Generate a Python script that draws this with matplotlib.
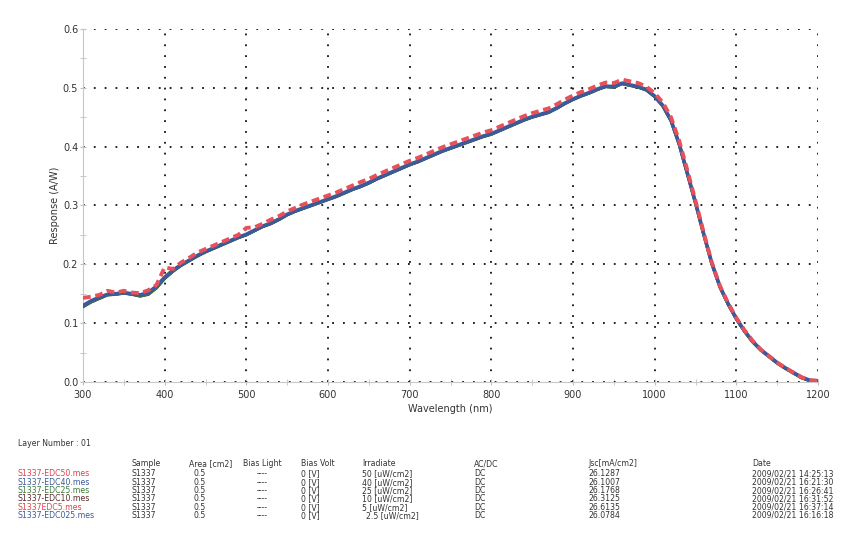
import matplotlib
matplotlib.use('Agg')
import matplotlib.pyplot as plt
from matplotlib.ticker import MultipleLocator

# wavelength grid (nm), 10 nm steps
wavelength = list(range(300, 1201, 10))

# EDC40 / EDC025 (blue)
resp_blue = [0.130, 0.138, 0.144, 0.149, 0.150, 0.152, 0.150, 0.148, 0.152, 0.163,
             0.178, 0.190, 0.199, 0.207, 0.215, 0.222, 0.228, 0.234, 0.240, 0.246,
             0.251, 0.258, 0.265, 0.270, 0.277, 0.285, 0.291, 0.296, 0.301, 0.306,
             0.311, 0.316, 0.322, 0.328, 0.333, 0.339, 0.346, 0.352, 0.358, 0.364,
             0.370, 0.375, 0.381, 0.387, 0.393, 0.398, 0.403, 0.408, 0.413, 0.418,
             0.422, 0.428, 0.434, 0.440, 0.446, 0.451, 0.455, 0.459, 0.466, 0.474,
             0.481, 0.487, 0.492, 0.498, 0.503, 0.502, 0.508, 0.505, 0.502, 0.497,
             0.486, 0.470, 0.445, 0.405, 0.355, 0.305, 0.252, 0.202, 0.162, 0.133,
             0.108, 0.087, 0.069, 0.055, 0.044, 0.033, 0.024, 0.016, 0.008, 0.003,
             0.002]

# EDC10 / EDC25 (black, green)
resp_dark = [0.128, 0.136, 0.142, 0.148, 0.149, 0.151, 0.149, 0.146, 0.149, 0.160,
             0.176, 0.188, 0.198, 0.206, 0.214, 0.221, 0.227, 0.233, 0.239, 0.245,
             0.250, 0.257, 0.264, 0.269, 0.276, 0.284, 0.290, 0.295, 0.300, 0.305,
             0.310, 0.315, 0.321, 0.327, 0.332, 0.338, 0.345, 0.351, 0.357, 0.363,
             0.369, 0.374, 0.380, 0.386, 0.392, 0.397, 0.402, 0.407, 0.412, 0.417,
             0.421, 0.427, 0.433, 0.439, 0.445, 0.450, 0.454, 0.458, 0.465, 0.473,
             0.480, 0.486, 0.491, 0.497, 0.502, 0.501, 0.507, 0.504, 0.501, 0.496,
             0.485, 0.469, 0.444, 0.404, 0.354, 0.304, 0.251, 0.201, 0.161, 0.132,
             0.107, 0.086, 0.068, 0.054, 0.043, 0.032, 0.023, 0.015, 0.007, 0.002,
             0.001]

# EDC50 / EDC5 (red, dashed)
resp_red = [0.143, 0.145, 0.148, 0.155, 0.152, 0.155, 0.152, 0.151, 0.156, 0.165,
            0.195, 0.192, 0.203, 0.211, 0.220, 0.226, 0.232, 0.238, 0.244, 0.250,
            0.262, 0.263, 0.269, 0.276, 0.282, 0.290, 0.296, 0.302, 0.307, 0.312,
            0.317, 0.322, 0.328, 0.334, 0.340, 0.345, 0.352, 0.358, 0.364, 0.370,
            0.376, 0.381, 0.387, 0.393, 0.399, 0.404, 0.409, 0.414, 0.419, 0.424,
            0.428, 0.434, 0.440, 0.446, 0.452, 0.457, 0.461, 0.465, 0.472, 0.480,
            0.487, 0.493, 0.498, 0.504, 0.509, 0.508, 0.514, 0.511, 0.508, 0.502,
            0.491, 0.475, 0.450, 0.410, 0.360, 0.308, 0.254, 0.203, 0.163, 0.134,
            0.109, 0.088, 0.070, 0.055, 0.044, 0.033, 0.024, 0.016, 0.008, 0.003,
            0.002]

# measurement table
files = ['S1337-EDC50.mes', 'S1337-EDC40.mes', 'S1337-EDC25.mes',
         'S1337-EDC10.mes', 'S1337EDC5.mes', 'S1337-EDC025.mes']
file_colors = ['#e0404a', '#3a5a9c', '#3a7a3a', '#5a2a2a', '#e0404a', '#3a5a9c']
irradiate = ['50 [uW/cm2]', '40 [uW/cm2]', '25 [uW/cm2]',
             '10 [uW/cm2]', '5 [uW/cm2]', '2.5 [uW/cm2]']
jsc = ['26.1287', '26.1007', '26.1768', '26.3125', '26.6135', '26.0784']
dates = ['2009/02/21 14:25:13', '2009/02/21 16:21:30', '2009/02/21 16:26:41',
         '2009/02/21 16:31:52', '2009/02/21 16:37:14', '2009/02/21 16:16:18']

W, H = 851, 552
fig = plt.figure(figsize=(W / 100, H / 100), dpi=100)
ax = fig.add_axes([83 / W, 1 - 382 / H, (818 - 83) / W, (382 - 29) / H])

ax.plot(wavelength, resp_dark, color='#2a2a2a', lw=2.2, zorder=3)
ax.plot(wavelength, resp_dark, color='#3a7a3a', lw=2.0, zorder=3)
ax.plot(wavelength, resp_blue, color='#3a5a9c', lw=2.6, zorder=4)
ax.plot(wavelength, resp_red, color='#e8505a', lw=2.8, ls=(0, (2.0, 1.2)), zorder=5)

ax.set_xlim(300, 1200)
ax.set_ylim(0, 0.6)
ax.xaxis.set_major_locator(MultipleLocator(100))
ax.xaxis.set_minor_locator(MultipleLocator(50))
ax.yaxis.set_major_locator(MultipleLocator(0.1))
ax.yaxis.set_minor_locator(MultipleLocator(0.05))
ax.set_yticks(ax.get_yticks())
ax.set_yticklabels([f'{v:.1f}' for v in ax.get_yticks()])
ax.set_ylim(0, 0.6)

ax.grid(True, which='major', color='#111111', ls=(0, (1, 5)), lw=1.3)
for s in ['top', 'right']:
    ax.spines[s].set_visible(False)
for s in ['left', 'bottom']:
    ax.spines[s].set_color('#c8c8c8')
ax.tick_params(which='both', direction='inout', color='#c0c0c0', labelsize=7,
               labelcolor='#333333', length=5)
ax.tick_params(axis='y', pad=1)

ax.set_xlabel('Wavelength (nm)', fontsize=7, color='#333333', labelpad=3)
ax.set_ylabel('Response (A/W)', fontsize=7, color='#333333', labelpad=2)

# table under the chart
tfont = dict(fontsize=5.6, family=['Liberation Sans Narrow', 'DejaVu Sans'],
             color='#333333', va='center', ha='left')


def put(x, y, s, **kw):
    opts = dict(tfont)
    opts.update(kw)
    fig.text(x / W, 1 - y / H, s, **opts)


put(18, 443, 'Layer Number : 01')
header = [(131, 'Sample'), (189, 'Area [cm2]'), (243, 'Bias Light'), (301, 'Bias Volt'),
          (362, 'Irradiate'), (474, 'AC/DC'), (588, 'Jsc[mA/cm2]'), (752, 'Date')]
for x, s in header:
    put(x, 464, s)

for i, name in enumerate(files):
    y = 474 + i * 8.3
    put(18, y, name, color=file_colors[i])
    put(131, y, 'S1337')
    put(193, y, '0.5')
    put(257, y, '----')
    put(301, y, '0 [V]')
    put(362 if i < 5 else 366, y, irradiate[i])
    put(474, y, 'DC')
    put(588, y, jsc[i])
    put(752, y, dates[i])

fig.savefig('out.png', dpi=100)
